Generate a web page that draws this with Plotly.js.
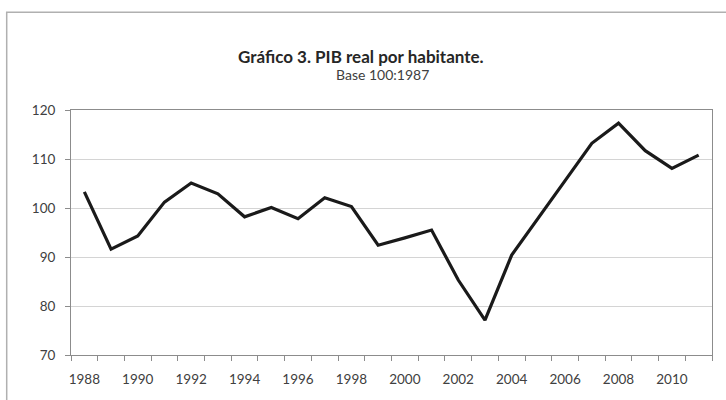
<!DOCTYPE html>
<html>
<head>
<meta charset="utf-8">
<script src="https://cdn.plot.ly/plotly-3.0.1.min.js"></script>
<style>html,body{margin:0;padding:0;background:#fff;}#chart{width:726px;height:400px;}</style>
</head>
<body>
<div id="chart"></div>
<script>
const years = [1988,1989,1990,1991,1992,1993,1994,1995,1996,1997,1998,1999,2000,2001,2002,2003,2004,2005,2006,2007,2008,2009,2010,2011];
const pibPerCapita = [103.3,91.6,94.3,101.2,105.1,102.9,98.2,100.1,97.8,102.1,100.3,92.4,93.9,95.5,85.3,77.1,90.4,97.9,105.6,113.2,117.3,111.7,108.1,110.8];
const xTickLabels = [1988,1990,1992,1994,1996,1998,2000,2002,2004,2006,2008,2010];
const yTicks = [70,80,90,100,110,120];
const titleText = "Gráfico 3. PIB real por habitante.";
const subtitleText = "Base 100:1987";

const FONT = "Lato, 'Open Sans', sans-serif";
const TXT = "#404040";

const trace = {
  x: years, y: pibPerCapita, type: "scatter", mode: "lines",
  line: {color: "#1a1a1a", width: 3.2}, hoverinfo: "x+y"
};

const layout = {
  width: 726, height: 400,
  margin: {l: 71, r: 14, t: 110, b: 45, pad: 0},
  paper_bgcolor: "#ffffff", plot_bgcolor: "#ffffff",
  showlegend: false,
  font: {family: FONT, color: TXT, size: 13},
  xaxis: {
    type: "linear", range: [1987.5, 2011.5], fixedrange: true,
    tickmode: "array", tickvals: xTickLabels, ticktext: xTickLabels.map(String),
    ticks: "", showgrid: false, zeroline: false,
    showline: true, linecolor: "#8c8c8c", linewidth: 1, mirror: true,
    tickfont: {family: FONT, size: 13.5, color: TXT},
    ticklabelstandoff: 12,
    minor: {ticks: "outside", tick0: 1987.5, dtick: 1, ticklen: 5, tickcolor: "#8c8c8c", tickwidth: 1, showgrid: false}
  },
  yaxis: {
    range: [70, 120], fixedrange: true,
    tickmode: "array", tickvals: yTicks,
    ticks: "outside", ticklen: 5, tickcolor: "#8c8c8c",
    showgrid: true, gridcolor: "#d4d4d4", gridwidth: 1, zeroline: false,
    showline: true, linecolor: "#8c8c8c", linewidth: 1, mirror: true,
    tickfont: {family: FONT, size: 13.5, color: TXT},
    ticklabelstandoff: 7
  },
  shapes: [{
    type: "rect", xref: "paper", yref: "paper",
    x0: (6.7 - 71) / 641, x1: 1.2, y0: -0.4, y1: (355 - 12.3) / 245,
    line: {color: "#b0b0b0", width: 1.5}, fillcolor: "rgba(0,0,0,0)", layer: "below"
  }],
  annotations: [
    {text: "<b>" + titleText + "</b>", xref: "paper", yref: "paper",
     x: (361 - 71) / 641, y: (355 - 56) / 245, xanchor: "center", yanchor: "middle",
     showarrow: false, font: {family: FONT, size: 17, color: "#262626"}},
    {text: subtitleText, xref: "paper", yref: "paper",
     x: (382 - 71) / 641, y: (355 - 74.5) / 245, xanchor: "center", yanchor: "middle",
     showarrow: false, font: {family: FONT, size: 14, color: TXT}}
  ]
};

Plotly.newPlot("chart", [trace], layout, {displayModeBar: false, staticPlot: true});
</script>
</body>
</html>
